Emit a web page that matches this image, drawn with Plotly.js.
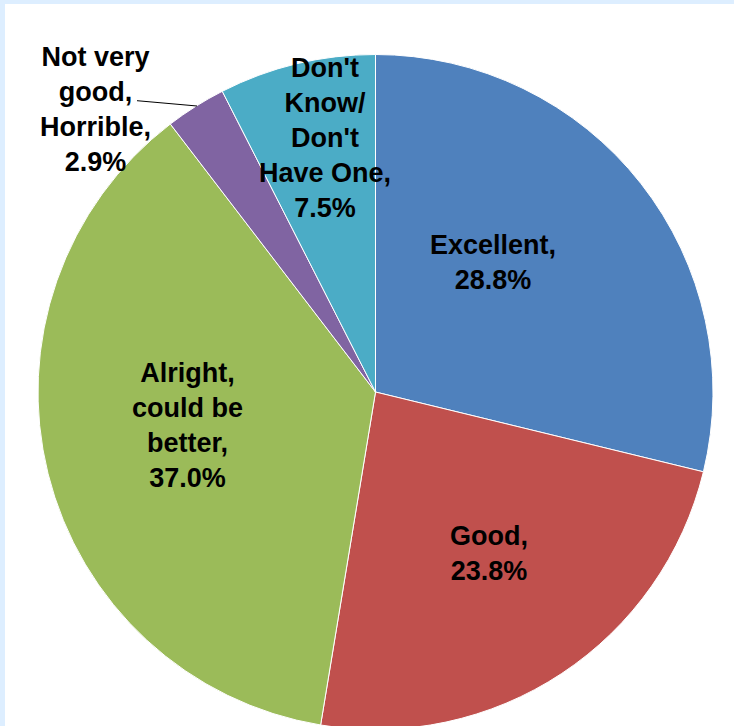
<!DOCTYPE html>
<html>
<head>
<meta charset="utf-8">
<script src="https://cdn.plot.ly/plotly-3.0.1.min.js"></script>
<style>
  html, body { margin: 0; padding: 0; background: #ddeeff; overflow: hidden; width: 734px; height: 726px; }
  #chart { position: absolute; left: 5px; top: 4px; width: 729px; height: 760px; background: #ffffff; }
</style>
</head>
<body>
<div id="chart"></div>
<script>
// Data
var categories = ["Excellent", "Good", "Alright, could be better", "Not very good, Horrible", "Don't Know/ Don't Have One"];
var labelLines = [
  ["Excellent,"],
  ["Good,"],
  ["Alright,", "could be", "better,"],
  ["Not very", "good,", "Horrible,"],
  ["Don't", "Know/", "Don't", "Have One,"]
];
var values = [28.8, 23.8, 37.0, 2.9, 7.5];
var colors = ["#4f81bd", "#c0504d", "#9bbb59", "#8064a2", "#4bacc6"];

var W = 729, H = 760, OX = 5, OY = 4;
function px(x) { return (x - OX) / W; }
function py(y) { return 1 - (y - OY) / H; }

// label centre positions (screen pixels)
var labelPos = [[493, 262], [489, 553], [187, 425], [95, 110], [325, 138]];

var trace = {
  type: "pie",
  labels: categories,
  values: values,
  sort: false,
  direction: "clockwise",
  rotation: 0,
  textinfo: "none",
  hoverinfo: "label+percent",
  marker: { colors: colors, line: { color: "#ffffff", width: 1 } },
  domain: { x: [px(38), px(713)], y: [py(729.5), py(54.5)] },
  showlegend: false
};

var annotations = categories.map(function (c, i) {
  var t = labelLines[i].concat([values[i].toFixed(1) + "%"]).join("<br>");
  return {
    xref: "paper", yref: "paper",
    x: px(labelPos[i][0]), y: py(labelPos[i][1]),
    xanchor: "center", yanchor: "middle",
    text: "<b>" + t + "</b>",
    showarrow: false,
    align: "center",
    font: { family: "Liberation Sans, Arial, sans-serif", size: 27, color: "#000000" }
  };
});

var layout = {
  width: W, height: H,
  margin: { l: 0, r: 0, t: 0, b: 0 },
  paper_bgcolor: "#ffffff",
  annotations: annotations,
  shapes: [{
    type: "line", xref: "paper", yref: "paper",
    x0: px(137), y0: py(100.7), x1: px(197), y1: py(106),
    line: { color: "#000000", width: 1 }
  }]
};

Plotly.newPlot("chart", [trace], layout, { displayModeBar: false, staticPlot: true });
</script>
</body>
</html>
